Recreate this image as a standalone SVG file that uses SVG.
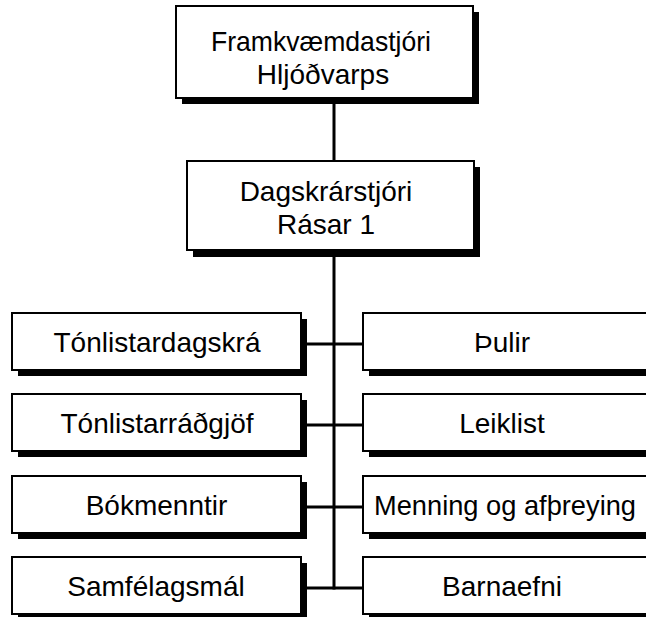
<svg xmlns="http://www.w3.org/2000/svg" width="646" height="617" viewBox="0 0 646 617">
<style>
.sh{fill:#000}
.bx{fill:#fff;stroke:#000;stroke-width:2}
.t{font-family:"Liberation Sans",Arial,sans-serif;font-size:28px;fill:#000;text-anchor:middle}
.c{stroke:#000;stroke-width:3;fill:none}
</style>
<g id="connectors">
<line class="c" x1="334" y1="97" x2="334" y2="589.5"/>
<line class="c" x1="301" y1="344" x2="363" y2="344"/>
<line class="c" x1="301" y1="425" x2="363" y2="425"/>
<line class="c" x1="301" y1="507" x2="363" y2="507"/>
<line class="c" x1="301" y1="588" x2="363" y2="588"/>
</g>
<g id="n-framkv">
<rect class="sh" x="182" y="12" width="297" height="92"/>
<rect class="bx" x="176" y="6" width="297" height="92"/>
<text class="t" x="321" y="51" textLength="220" lengthAdjust="spacingAndGlyphs">Framkvæmdastjóri</text>
<text class="t" x="323" y="84">Hljóðvarps</text>
</g>
<g id="n-dagskr">
<rect class="sh" x="193" y="167" width="287" height="90"/>
<rect class="bx" x="187" y="161" width="287" height="89"/>
<text class="t" x="326" y="201">Dagskrárstjóri</text>
<text class="t" x="326" y="234">Rásar 1</text>
</g>
<g id="n-tonlistardagskra">
<rect class="sh" x="18" y="319" width="289" height="57"/>
<rect class="bx" x="12" y="313" width="289" height="57"/>
<text class="t" x="157" y="352">Tónlistardagskrá</text>
</g>
<g id="n-tonlistarradgjof">
<rect class="sh" x="18" y="400" width="289" height="57"/>
<rect class="bx" x="12" y="394" width="289" height="57"/>
<text class="t" x="157" y="433">Tónlistarráðgjöf</text>
</g>
<g id="n-bokmenntir">
<rect class="sh" x="18" y="482" width="289" height="57"/>
<rect class="bx" x="12" y="476" width="289" height="57"/>
<text class="t" x="156.5" y="515">Bókmenntir</text>
</g>
<g id="n-samfelagsmal">
<rect class="sh" x="18" y="563" width="289" height="57"/>
<rect class="bx" x="12" y="557" width="289" height="57"/>
<text class="t" x="156" y="596">Samfélagsmál</text>
</g>
<g id="n-pulir">
<rect class="sh" x="369" y="319" width="289" height="57"/>
<rect class="bx" x="363" y="313" width="289" height="57"/>
<text class="t" x="502" y="352">Þulir</text>
</g>
<g id="n-leiklist">
<rect class="sh" x="369" y="400" width="289" height="57"/>
<rect class="bx" x="363" y="394" width="289" height="57"/>
<text class="t" x="502" y="433">Leiklist</text>
</g>
<g id="n-menning">
<rect class="sh" x="369" y="482" width="289" height="57"/>
<rect class="bx" x="363" y="476" width="289" height="57"/>
<text class="t" x="505" y="515" textLength="262" lengthAdjust="spacingAndGlyphs">Menning og afþreying</text>
</g>
<g id="n-barnaefni">
<rect class="sh" x="369" y="563" width="289" height="57"/>
<rect class="bx" x="363" y="557" width="289" height="57"/>
<text class="t" x="502" y="596">Barnaefni</text>
</g>
</svg>
